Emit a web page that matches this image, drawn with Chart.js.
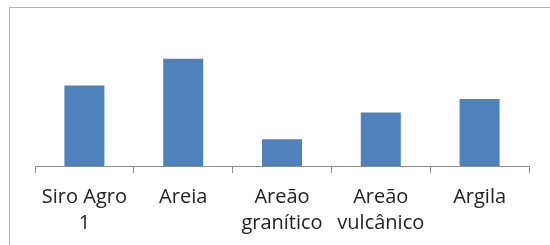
<!DOCTYPE html>
<html>
<head>
<meta charset="utf-8">
<script src="https://cdn.jsdelivr.net/npm/chart.js@4/dist/chart.umd.min.js"></script>
<style>
  html, body { margin: 0; padding: 0; background: #fff; }
  #wrap { position: relative; width: 550px; height: 245px; overflow: hidden; }
  #frame { position: absolute; left: 9px; top: 7px; width: 560px; height: 260px; border: 1px solid #b5b5b5; box-sizing: border-box; }
  canvas { position: absolute; left: 0; top: 0; }
</style>
</head>
<body>
<div id="wrap">
  <div id="frame"></div>
  <canvas id="grafico" width="550" height="245"></canvas>
</div>
<script>
// --- DADOS ---
const categorias = [
    ["Siro Agro", "1"],
    ["Areia"],
    ["Areão", "granítico"],
    ["Areão", "vulcânico"],
    ["Argila"]
];
const valores = [3, 4, 1, 2, 2.5];
const eixoMax = 5;

const corBarra = "#4f81bd";
const corEixo = "#8c8c8c";

new Chart(document.getElementById("grafico"), {
    type: "bar",
    data: {
        labels: categorias,
        datasets: [{
            data: valores,
            backgroundColor: corBarra,
            barPercentage: 0.405,
            categoryPercentage: 1
        }]
    },
    options: {
        responsive: false,
        animation: false,
        layout: { padding: { left: 35, right: 21, top: 32, bottom: 0 } },
        plugins: { legend: { display: false }, tooltip: { enabled: false } },
        scales: {
            x: {
                grid: { drawOnChartArea: false, color: corEixo, tickLength: 7, offset: true },
                border: { display: true, color: corEixo },
                ticks: {
                    color: "#222",
                    padding: 11,
                    maxRotation: 0,
                    autoSkip: false,
                    font: { family: "Open Sans", size: 20, lineHeight: 1.3 }
                },
                afterFit: (scale) => { scale.height = 79; }
            },
            y: { display: false, min: 0, max: eixoMax }
        }
    }
});
</script>
</body>
</html>
